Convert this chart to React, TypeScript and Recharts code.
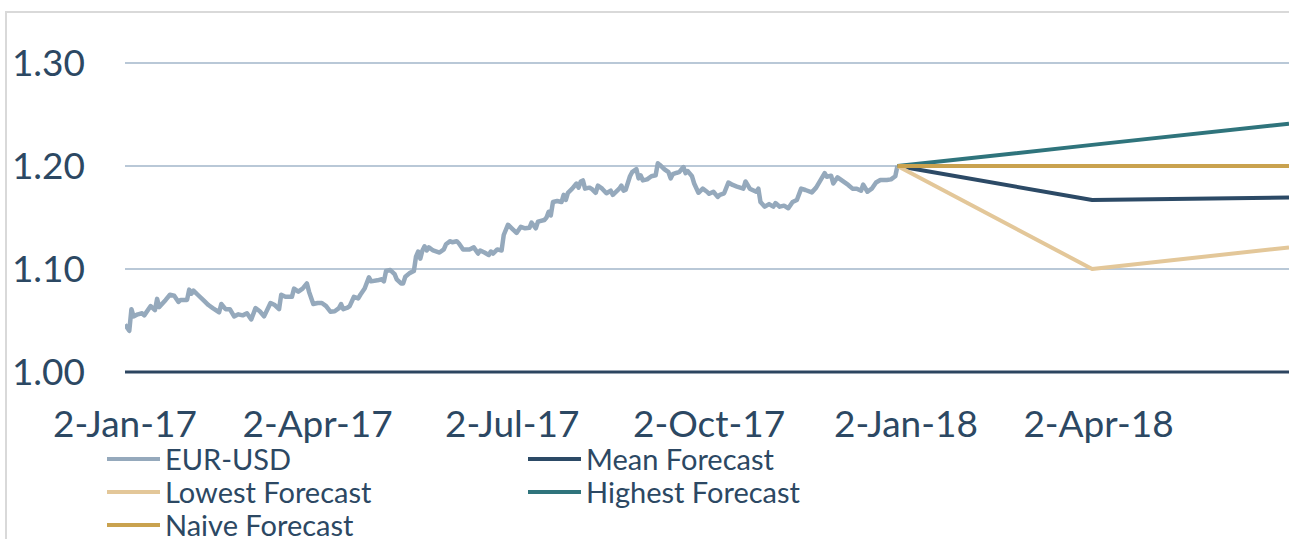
import React from 'react';
import { LineChart, Line, XAxis, YAxis, CartesianGrid, Legend } from 'recharts';

// ---------- data ----------
const eurUsdDates = [
  '2017-01-02','2017-01-04','2017-01-05','2017-01-06','2017-01-08','2017-01-10','2017-01-11','2017-01-14','2017-01-16','2017-01-17',
  '2017-01-18','2017-01-21','2017-01-23','2017-01-25','2017-01-27','2017-01-28','2017-01-31','2017-02-01','2017-02-02','2017-02-03',
  '2017-02-05','2017-02-08','2017-02-10','2017-02-12','2017-02-15','2017-02-16','2017-02-18','2017-02-20','2017-02-22','2017-02-24',
  '2017-02-26','2017-02-28','2017-03-02','2017-03-04','2017-03-06','2017-03-08','2017-03-11','2017-03-13','2017-03-15','2017-03-16',
  '2017-03-18','2017-03-21','2017-03-22','2017-03-24','2017-03-26','2017-03-28','2017-03-29','2017-03-31','2017-04-02','2017-04-04',
  '2017-04-06','2017-04-08','2017-04-10','2017-04-12','2017-04-13','2017-04-14','2017-04-16','2017-04-17','2017-04-19','2017-04-21',
  '2017-04-22','2017-04-24','2017-04-26','2017-04-27','2017-04-30','2017-05-02','2017-05-03','2017-05-04','2017-05-06','2017-05-08',
  '2017-05-09','2017-05-11','2017-05-12','2017-05-13','2017-05-15','2017-05-17','2017-05-18','2017-05-19','2017-05-20','2017-05-21',
  '2017-05-22','2017-05-23','2017-05-24','2017-05-26','2017-05-29','2017-05-31','2017-06-01','2017-06-03','2017-06-04','2017-06-06',
  '2017-06-07','2017-06-09','2017-06-12','2017-06-14','2017-06-16','2017-06-17','2017-06-19','2017-06-21','2017-06-22','2017-06-23',
  '2017-06-25','2017-06-27','2017-06-28','2017-06-30','2017-07-02','2017-07-04','2017-07-06','2017-07-08','2017-07-10','2017-07-11',
  '2017-07-13','2017-07-14','2017-07-17','2017-07-18','2017-07-19','2017-07-20','2017-07-21','2017-07-23','2017-07-25','2017-07-26',
  '2017-07-27','2017-07-28','2017-07-30','2017-08-01','2017-08-02','2017-08-03','2017-08-04','2017-08-05','2017-08-07','2017-08-08',
  '2017-08-10','2017-08-11','2017-08-13','2017-08-15','2017-08-17','2017-08-18','2017-08-21','2017-08-22','2017-08-23','2017-08-24',
  '2017-08-26','2017-08-27','2017-08-29','2017-08-30','2017-08-31','2017-09-01','2017-09-03','2017-09-05','2017-09-07','2017-09-08',
  '2017-09-09','2017-09-11','2017-09-13','2017-09-14','2017-09-15','2017-09-17','2017-09-18','2017-09-20','2017-09-21','2017-09-22',
  '2017-09-24','2017-09-25','2017-09-27','2017-09-29','2017-10-01','2017-10-02','2017-10-04','2017-10-06','2017-10-07','2017-10-09',
  '2017-10-11','2017-10-13','2017-10-15','2017-10-18','2017-10-19','2017-10-21','2017-10-23','2017-10-24','2017-10-25','2017-10-26',
  '2017-10-28','2017-10-30','2017-11-01','2017-11-02','2017-11-04','2017-11-06','2017-11-08','2017-11-10','2017-11-12','2017-11-14',
  '2017-11-16','2017-11-19','2017-11-21','2017-11-23','2017-11-25','2017-11-26','2017-11-28','2017-11-29','2017-12-01','2017-12-03',
  '2017-12-06','2017-12-08','2017-12-10','2017-12-12','2017-12-13','2017-12-15','2017-12-17','2017-12-19','2017-12-21','2017-12-24',
  '2017-12-26','2017-12-28','2017-12-29',
];
const eurUsdValues = [
  1.046,1.040,1.061,1.054,1.056,1.057,1.055,1.064,1.060,1.071,
  1.063,1.070,1.075,1.074,1.068,1.070,1.070,1.080,1.076,1.079,
  1.075,1.069,1.065,1.062,1.058,1.066,1.061,1.061,1.054,1.056,
  1.055,1.057,1.051,1.062,1.059,1.054,1.067,1.065,1.061,1.075,
  1.073,1.073,1.081,1.078,1.081,1.086,1.078,1.066,1.067,1.067,
  1.064,1.0585,1.059,1.062,1.066,1.061,1.0625,1.064,1.073,1.0715,
  1.075,1.081,1.092,1.088,1.089,1.090,1.088,1.098,1.099,1.095,
  1.090,1.086,1.086,1.0925,1.096,1.098,1.112,1.117,1.110,1.118,
  1.122,1.118,1.121,1.118,1.116,1.119,1.124,1.127,1.126,1.127,
  1.125,1.119,1.119,1.121,1.115,1.118,1.116,1.1136,1.117,1.115,
  1.119,1.118,1.133,1.143,1.139,1.135,1.141,1.1395,1.140,1.145,
  1.1395,1.146,1.1476,1.150,1.1556,1.152,1.165,1.166,1.165,1.172,
  1.167,1.174,1.178,1.183,1.179,1.185,1.186,1.178,1.179,1.178,
  1.174,1.181,1.178,1.1735,1.176,1.172,1.178,1.181,1.176,1.177,
  1.190,1.194,1.197,1.188,1.191,1.186,1.187,1.190,1.191,1.2026,
  1.201,1.197,1.194,1.188,1.192,1.1935,1.194,1.199,1.193,1.195,
  1.190,1.183,1.174,1.178,1.175,1.173,1.175,1.170,1.172,1.1735,
  1.184,1.1816,1.180,1.178,1.185,1.178,1.176,1.175,1.178,1.165,
  1.1605,1.163,1.1605,1.164,1.1605,1.1615,1.159,1.165,1.167,1.178,
  1.1767,1.1744,1.179,1.186,1.193,1.1896,1.1906,1.183,1.189,1.186,
  1.1816,1.178,1.178,1.176,1.182,1.175,1.178,1.184,1.1864,1.1864,
  1.187,1.190,1.200,
];

const forecastDates = ['2017-12-29', '2018-03-30', '2018-06-30'];
const meanForecast = [1.2, 1.167, 1.1695];
const lowestForecast = [1.2, 1.1, 1.121];
const highestForecast = [1.2, 1.2205, 1.241];
const naiveForecast = [1.2, 1.2, 1.2];

const xTickDates = ['2017-01-02', '2017-04-02', '2017-07-02', '2017-10-02', '2018-01-02', '2018-04-02'];
const xDomainDates = ['2017-01-02', '2018-06-30'];
const yTicks = [1.0, 1.1, 1.2, 1.3];

// ---------- helpers ----------
const MONTHS = ['Jan', 'Feb', 'Mar', 'Apr', 'May', 'Jun', 'Jul', 'Aug', 'Sep', 'Oct', 'Nov', 'Dec'];
const toTs = (s: string) => Date.UTC(+s.slice(0, 4), +s.slice(5, 7) - 1, +s.slice(8, 10));
const fmtDate = (t: number) => {
  const d = new Date(t);
  return `${d.getUTCDate()}-${MONTHS[d.getUTCMonth()]}-${String(d.getUTCFullYear()).slice(2)}`;
};
const zip = (dates: string[], vals: number[]) => dates.map((d, i) => ({ t: toTs(d), v: vals[i] }));

const FONT = 'Lato, "Open Sans", sans-serif';
const TEXT = '#2c4863';

const series = [
  { name: 'EUR-USD', color: '#95a9bc', width: 4.5, data: zip(eurUsdDates, eurUsdValues) },
  { name: 'Mean Forecast', color: '#2c4a66', width: 4, data: zip(forecastDates, meanForecast) },
  { name: 'Lowest Forecast', color: '#e3c799', width: 4, data: zip(forecastDates, lowestForecast) },
  { name: 'Highest Forecast', color: '#2f747c', width: 4, data: zip(forecastDates, highestForecast) },
  { name: 'Naive Forecast', color: '#c9a24f', width: 4, data: zip(forecastDates, naiveForecast) },
];

const renderLegend = () => (
  <div style={{ position: 'relative', width: 900, height: 100, fontFamily: FONT, fontSize: 29, color: TEXT }}>
    {series.map((s, i) => {
      const col = i % 2;
      const row = Math.floor(i / 2);
      return (
        <div
          key={s.name}
          style={{
            position: 'absolute',
            left: col ? 528 : 107,
            top: row * 33,
            height: 33,
            display: 'flex',
            alignItems: 'center',
            whiteSpace: 'nowrap',
          }}
        >
          <span style={{ display: 'inline-block', width: 53, height: 4, background: s.color, marginRight: 5 }} />
          <span>{s.name}</span>
        </div>
      );
    })}
  </div>
);

export default function App() {
  return (
    <div style={{ position: 'absolute', left: 0, top: 0, width: 1289, height: 539, overflow: 'hidden', background: '#fff' }}>
      <div
        style={{
          position: 'absolute',
          left: 5,
          top: 11,
          width: 1400,
          height: 700,
          borderTop: '2px solid #d9d9d9',
          borderLeft: '2px solid #d9d9d9',
        }}
      />
      <div style={{ position: 'absolute', left: 0, top: 0 }}>
        <LineChart width={1289} height={539} margin={{ top: 63, right: 0, bottom: 107, left: 0 }}>
          <CartesianGrid horizontal vertical={false} stroke="#b9c8d7" strokeWidth={2} />
          <XAxis
            type="number"
            dataKey="t"
            domain={[toTs(xDomainDates[0]), toTs(xDomainDates[1])]}
            allowDataOverflow
            ticks={xTickDates.map(toTs)}
            interval={0}
            tickFormatter={fmtDate}
            tickLine={false}
            tickMargin={33}
            height={60}
            axisLine={{ stroke: '#2c4560', strokeWidth: 3 }}
            tick={{ fill: TEXT, fontSize: 37, fontFamily: FONT }}
          />
          <YAxis
            type="number"
            domain={[1.0, 1.3]}
            ticks={yTicks}
            interval={0}
            tickFormatter={(v: number) => v.toFixed(2)}
            axisLine={false}
            tickLine={false}
            tickMargin={34}
            width={125}
            tick={{ fill: TEXT, fontSize: 37, fontFamily: FONT }}
          />
          <Legend
            layout="horizontal"
            verticalAlign="middle"
            align="center"
            content={renderLegend}
            wrapperStyle={{ left: 0, top: 442, width: 900, height: 97 }}
          />
          {series.map((s) => (
            <Line
              key={s.name}
              data={s.data}
              dataKey="v"
              name={s.name}
              type="linear"
              stroke={s.color}
              strokeWidth={s.width}
              dot={false}
              activeDot={false}
              strokeLinejoin="round"
              isAnimationActive={false}
            />
          ))}
        </LineChart>
      </div>
    </div>
  );
}
